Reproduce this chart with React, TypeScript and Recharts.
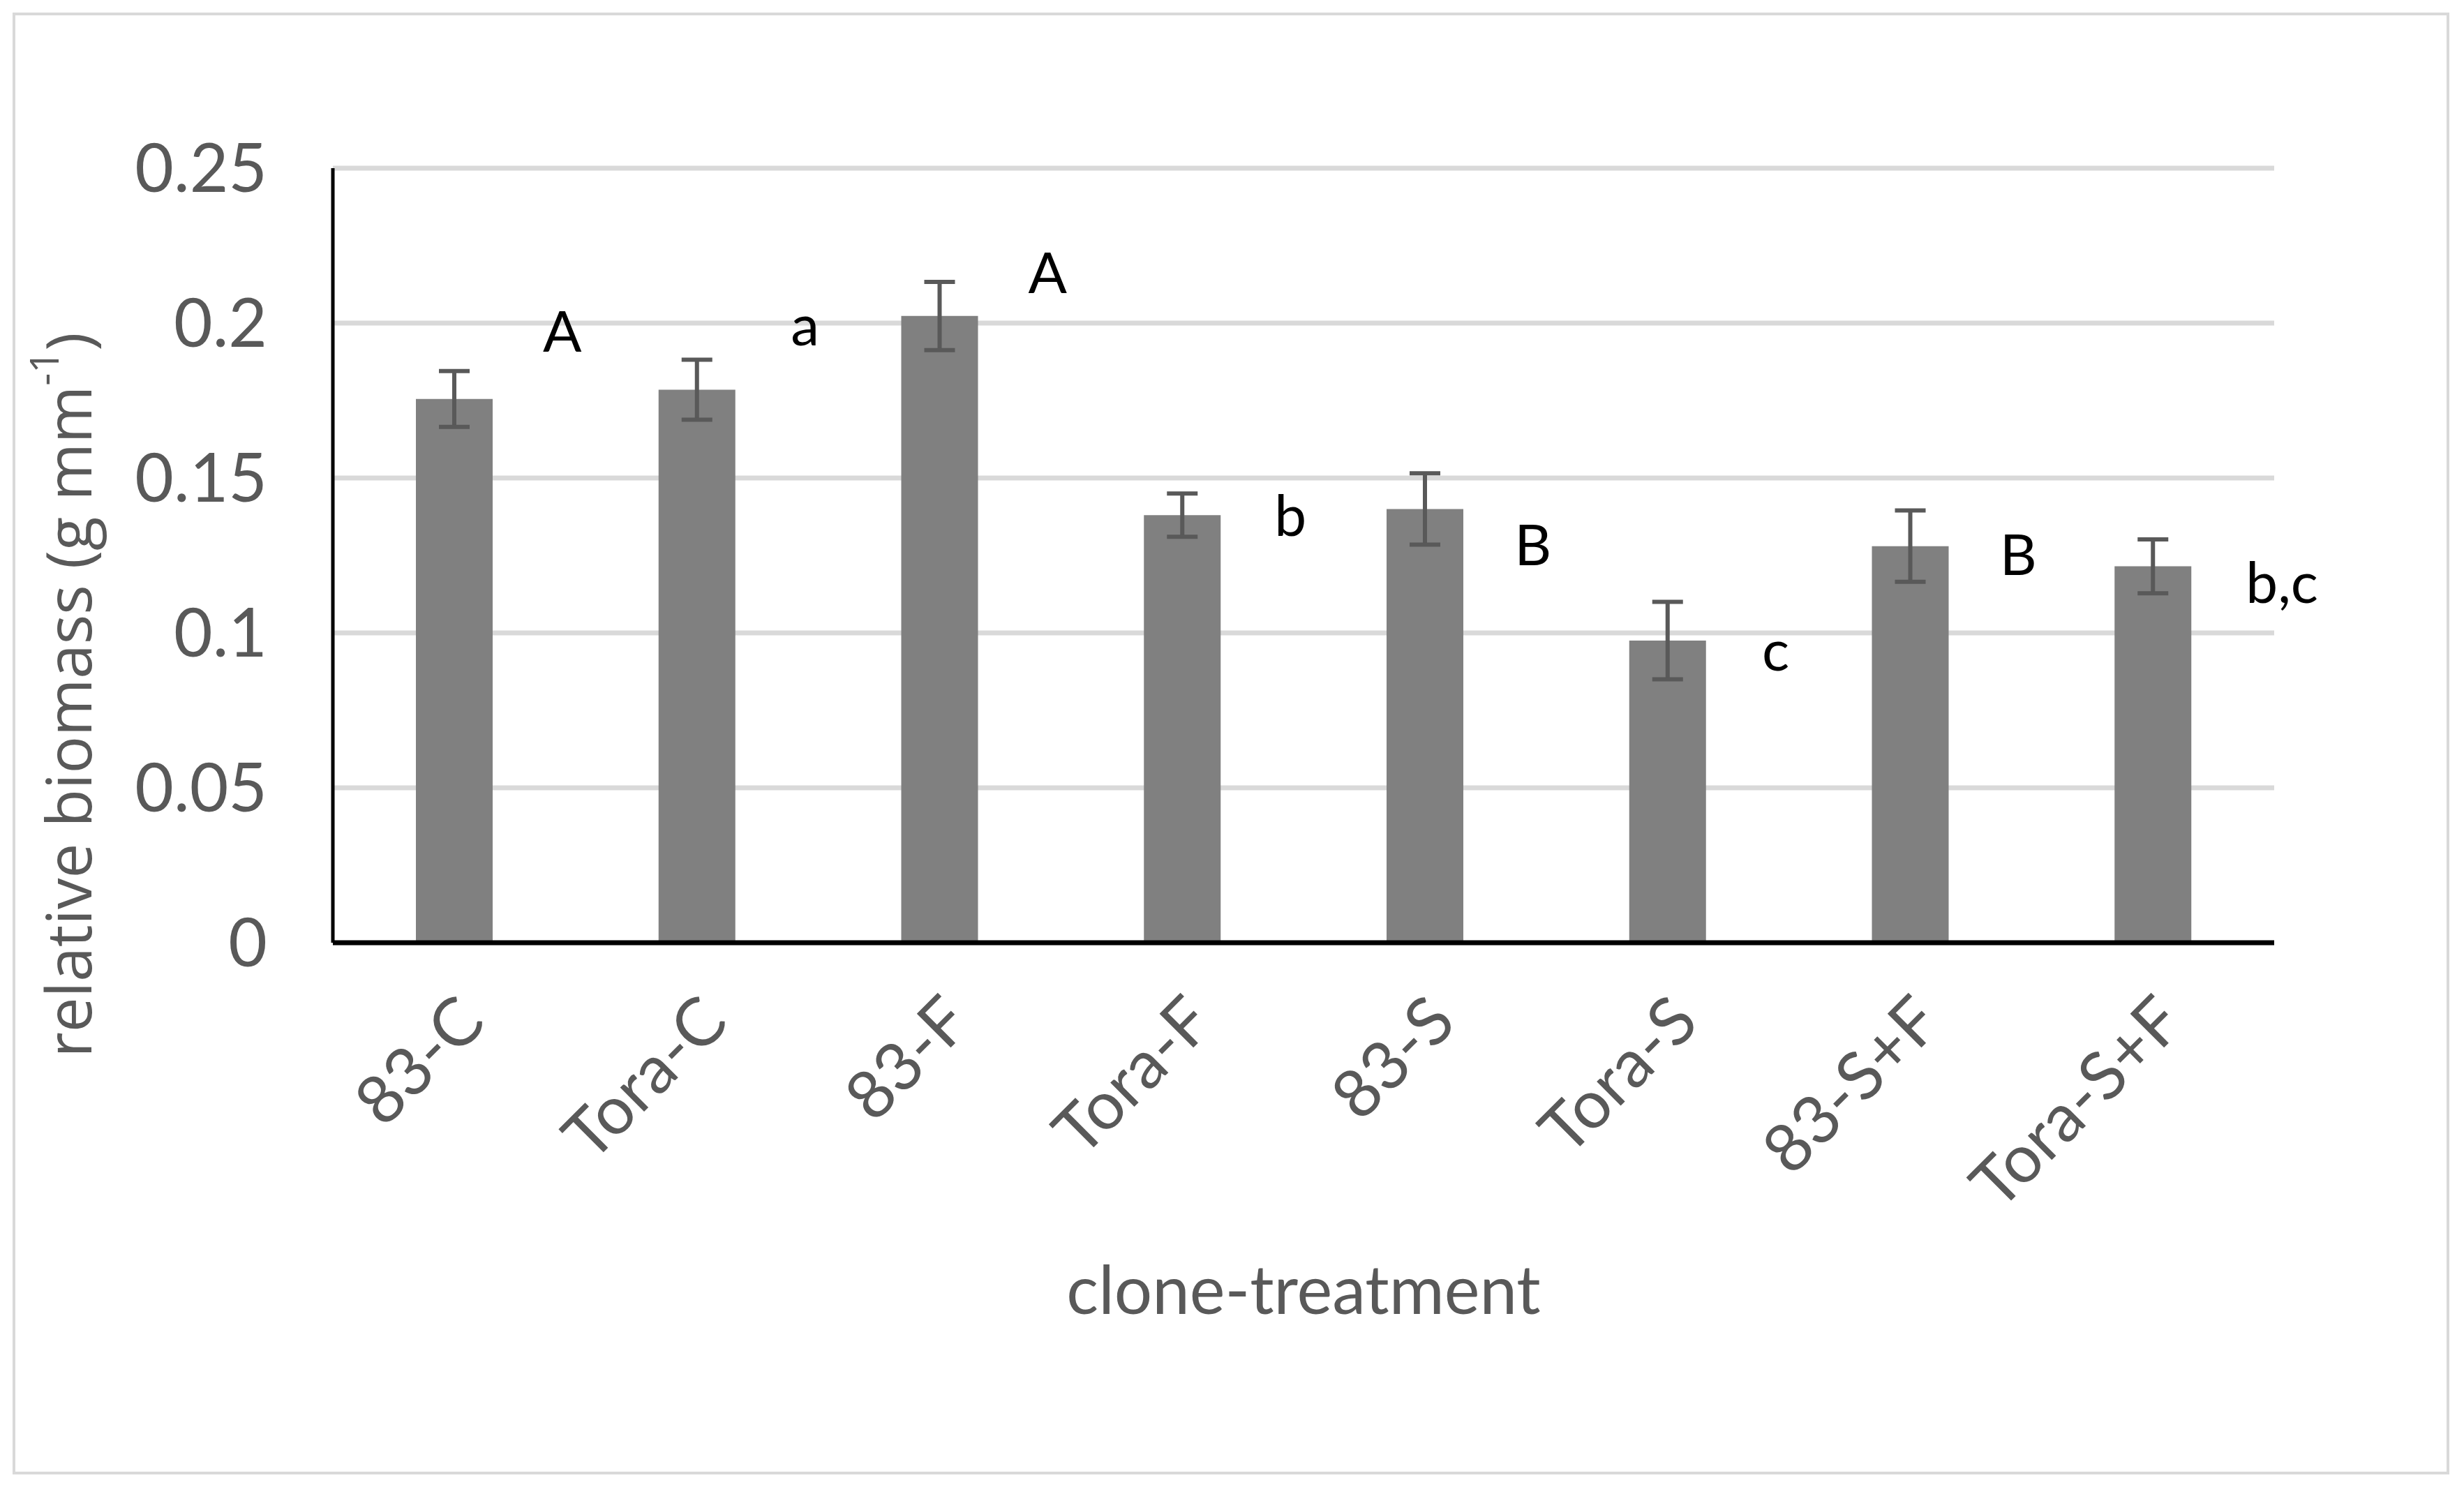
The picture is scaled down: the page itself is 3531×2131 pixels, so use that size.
import React from "react";
import {
  ComposedChart,
  Bar,
  ErrorBar,
  Scatter,
  XAxis,
  YAxis,
  CartesianGrid,
} from "recharts";

const categories = ["83-C", "Tora-C", "83-F", "Tora-F", "83-S", "Tora-S", "83-S+F", "Tora-S+F"];
const biomass = [0.1755, 0.1785, 0.2023, 0.138, 0.14, 0.0975, 0.128, 0.1215];
const errors = [0.009, 0.0097, 0.011, 0.007, 0.0115, 0.0125, 0.0115, 0.0087];
const letters = ["A", "a", "A", "b", "B", "c", "B", "b,c"];
const letterY = [0.198, 0.2, 0.217, 0.1385, 0.129, 0.095, 0.126, 0.117];
const yTicks = [0, 0.05, 0.1, 0.15, 0.2, 0.25];

const data = categories.map((name, i) => ({
  name,
  value: biomass[i],
  err: errors[i],
  letter: letters[i],
  letterY: letterY[i],
}));

const W = 3531;
const H = 2131;
const FONT = "Lato, 'Open Sans', sans-serif";

const LetterShape = (props: any) => {
  const { cx, cy, payload } = props;
  // the last label sits a bit further right in the original
  const dx = payload.letter.length > 1 ? 185 : 155;
  return (
    <text
      x={cx + dx}
      y={cy}
      fontFamily={FONT}
      fontSize={82}
      fill="#000"
      textAnchor="middle"
      dominantBaseline="central"
    >
      {payload.letter}
    </text>
  );
};

const YTitle = (props: any) => {
  const { viewBox } = props;
  const x = viewBox.x + 36;
  const y = viewBox.y + viewBox.height / 2 + 200;
  return (
    <text
      x={x}
      y={y}
      transform={`rotate(-90, ${x}, ${y})`}
      textAnchor="middle"
      dominantBaseline="central"
      fontFamily="'Open Sans', sans-serif"
      fontSize={89}
      fill="#595959"
    >
      relative biomass (g mm
      <tspan fontSize={56} dy={-34}>-1</tspan>
      <tspan dy={34}>)</tspan>
    </text>
  );
};

const XTitle = (props: any) => {
  const { viewBox } = props;
  return (
    <text
      x={viewBox.x + viewBox.width / 2}
      y={viewBox.y + 494}
      textAnchor="middle"
      dominantBaseline="central"
      fontFamily={FONT}
      fontSize={96}
      fill="#595959"
    >
      clone-treatment
    </text>
  );
};

export default function App() {
  return (
    <div
      style={{
        position: "absolute",
        left: 0,
        top: 0,
        width: W,
        height: H,
        background: "#fff",
      }}
    >
      <div
        style={{
          position: "absolute",
          left: 18,
          top: 18,
          width: 3492,
          height: 2095,
          border: "4px solid #d9d9d9",
          boxSizing: "border-box",
        }}
      />
      <ComposedChart
        width={W}
        height={H}
        data={data}
        margin={{ top: 241, right: 272, left: 60, bottom: 280 }}
        style={{ position: "absolute", left: 0, top: 0 }}
      >
        <CartesianGrid vertical={false} stroke="#d9d9d9" strokeWidth={7} />
        <XAxis
          dataKey="name"
          height={500}
          interval={0}
          tickLine={false}
          tickSize={0}
          tickMargin={70}
          axisLine={{ stroke: "#000", strokeWidth: 7 }}
          angle={-45}
          textAnchor="end"
          tick={{ fill: "#595959", fontSize: 96, fontFamily: FONT }}
          label={<XTitle />}
        />
        <YAxis
          width={417}
          domain={[0, 0.25]}
          ticks={yTicks}
          tickLine={false}
          tickSize={0}
          tickMargin={94}
          axisLine={{ stroke: "#000", strokeWidth: 5 }}
          tick={{ fill: "#595959", fontSize: 96, fontFamily: FONT }}
          label={<YTitle />}
        />
        <Bar dataKey="value" fill="#808080" barSize={110} isAnimationActive={false}>
          <ErrorBar dataKey="err" width={22} stroke="#595959" strokeWidth={6} direction="y" />
        </Bar>
        <Scatter dataKey="letterY" shape={<LetterShape />} isAnimationActive={false} />
      </ComposedChart>
    </div>
  );
}
